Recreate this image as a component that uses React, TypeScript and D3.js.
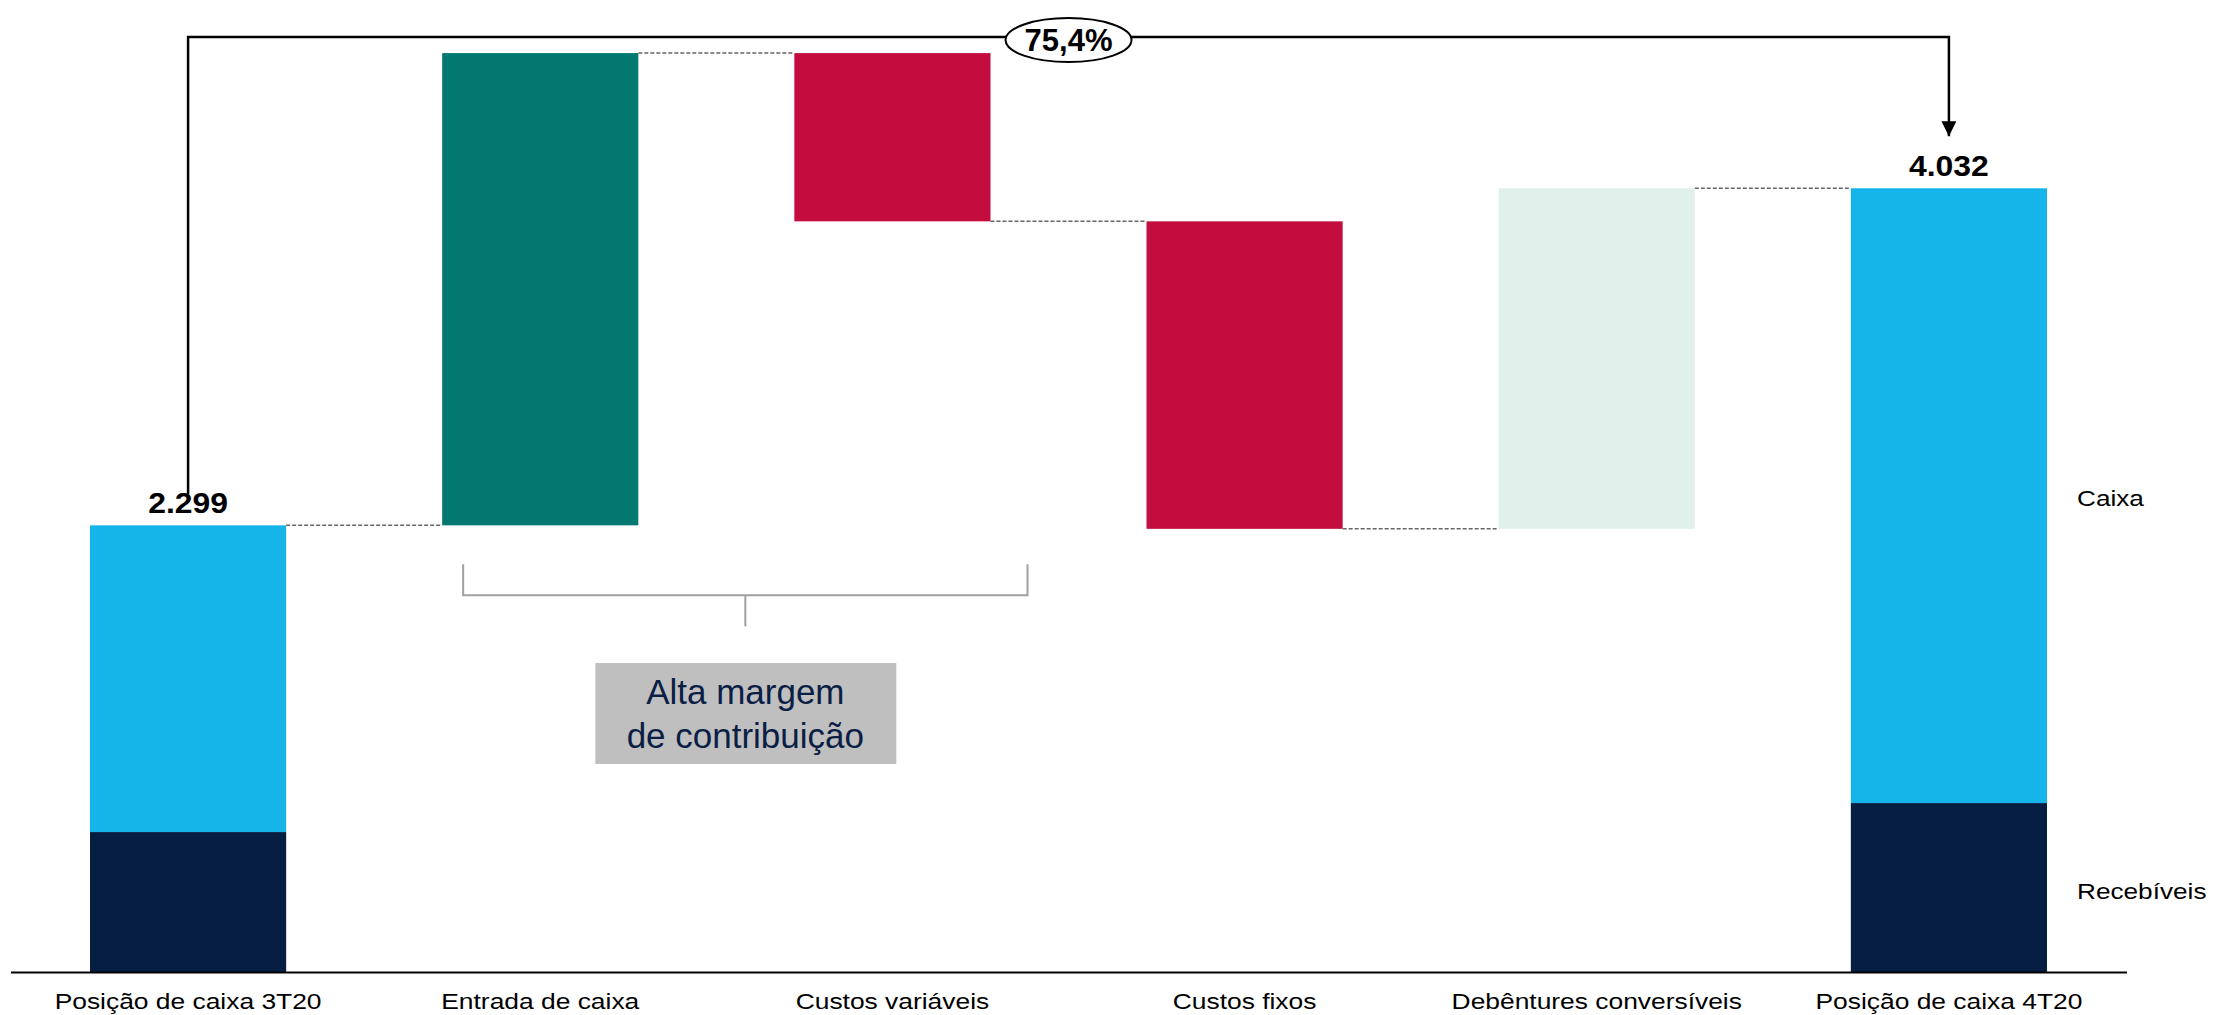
import { useMemo } from 'react'
import * as d3 from 'd3'

const W = 2213
const H = 1015

const CATEGORIES = [
  'Posição de caixa 3T20',
  'Entrada de caixa',
  'Custos variáveis',
  'Custos fixos',
  'Debêntures conversíveis',
  'Posição de caixa 4T20',
]
// steps of the waterfall; first and last are totals
const VALUES = [2299, 2428, -865, -1581, 1751, 4032]
const IS_TOTAL = [true, false, false, false, false, true]
const STEP_COLORS = ['', '#037870', '#C30D3E', '#C30D3E', '#E0F1EC', '']
// receivables part of the two cash positions
const RECEIVABLES = [722, 0, 0, 0, 0, 871]
const TOTAL_LABELS = ['2.299', '', '', '', '', '4.032']
const GROWTH_LABEL = '75,4%'
const LEGEND = [
  { label: 'Caixa', value: 2440 },
  { label: 'Recebíveis', value: 420 },
]

const CAIXA = '#15B5E9'
const RECEB = '#051E42'
const FONT = '"Liberation Sans", Arial, sans-serif'

export default function App() {
  const x = d3.scaleBand<string>(CATEGORIES, [12, 2125]).paddingInner(0.443).paddingOuter(0.2215)
  const y = d3.scaleLinear([0, 5000], [972.5, 0])
  const bw = x.bandwidth()

  const bars = useMemo(() => {
    let run = 0
    return VALUES.map((v, i) => {
      if (IS_TOTAL[i]) {
        run = v
        return { i, y0: 0, y1: v, end: v }
      }
      const start = run
      run += v
      return { i, y0: Math.min(start, run), y1: Math.max(start, run), end: run }
    })
  }, [])

  const cx = (i: number) => (x(CATEGORIES[i]) ?? 0) + bw / 2
  const first = 0
  const last = CATEGORIES.length - 1
  const topY = y(d3.max(bars, b => b.y1)!) - 16
  const midX = (cx(first) + cx(last)) / 2

  // bracket under "Entrada de caixa" + "Custos variáveis"
  const bL = (x(CATEGORIES[1]) ?? 0) + 21
  const bR = (x(CATEGORIES[2]) ?? 0) + bw + 37
  const bMid = (bL + bR) / 2
  const bTop = y(VALUES[0]) + 39

  return (
    <div style={{ position: 'fixed', left: 0, top: 0, width: W, height: H, background: '#fff' }}>
      <svg width={W} height={H} style={{ display: 'block' }} fontFamily={FONT}>
        <defs>
          <marker id="arr" viewBox="0 0 10 10" refX="10" refY="5" markerWidth="6" markerHeight="6"
            markerUnits="strokeWidth" orient="auto">
            <path d="M0,0 L10,5 L0,10 z" fill="#000" />
          </marker>
        </defs>

        {/* bars */}
        {bars.map(b => {
          const bx = x(CATEGORIES[b.i]) ?? 0
          if (IS_TOTAL[b.i]) {
            const r = RECEIVABLES[b.i]
            return (
              <g key={b.i}>
                <rect x={bx} width={bw} y={y(b.y1)} height={y(r) - y(b.y1)} fill={CAIXA} />
                <rect x={bx} width={bw} y={y(r)} height={y(0) - y(r)} fill={RECEB} />
              </g>
            )
          }
          return (
            <rect key={b.i} x={bx} width={bw} y={y(b.y1)} height={y(b.y0) - y(b.y1)} fill={STEP_COLORS[b.i]} />
          )
        })}

        {/* dashed connectors */}
        {bars.slice(0, -1).map(b => (
          <line key={`c${b.i}`}
            x1={(x(CATEGORIES[b.i]) ?? 0) + bw} x2={x(CATEGORIES[b.i + 1]) ?? 0}
            y1={y(b.end)} y2={y(b.end)}
            stroke="#666" strokeWidth={1.5} strokeDasharray="4,2" />
        ))}

        {/* axis baseline */}
        <line x1={11} x2={2127} y1={y(0)} y2={y(0)} stroke="#000" strokeWidth={2} />

        {/* category labels (source text is a bit wide) */}
        {CATEGORIES.map((c, i) => (
          <text key={c} transform={`translate(${cx(i)},1009) scale(1.2,1)`} textAnchor="middle"
            fontSize={22} fill="#000">{c}</text>
        ))}

        {/* total labels */}
        {bars.filter(b => IS_TOTAL[b.i]).map(b => (
          <text key={`t${b.i}`} transform={`translate(${cx(b.i)},${y(b.y1) - 12}) scale(1.1,1)`}
            textAnchor="middle" fontSize={29} fontWeight="bold" fill="#000">{TOTAL_LABELS[b.i]}</text>
        ))}

        {/* legend labels on the right */}
        {LEGEND.map(l => (
          <text key={l.label} transform={`translate(2077,${y(l.value) + 8}) scale(1.19,1)`}
            fontSize={22} fill="#000">{l.label}</text>
        ))}

        {/* growth arrow */}
        <path
          d={`M${cx(first)},${y(VALUES[0]) - 31} V${topY} H${cx(last)} V${y(VALUES[last]) - 52}`}
          fill="none" stroke="#000" strokeWidth={2.5} markerEnd="url(#arr)" />
        <ellipse cx={midX} cy={topY + 3} rx={63} ry={22} fill="#fff" stroke="#000" strokeWidth={2} />
        <text x={midX} y={topY + 14} textAnchor="middle" fontSize={31} fontWeight="bold" fill="#000">
          {GROWTH_LABEL}
        </text>

        {/* contribution margin bracket */}
        <path d={`M${bL},${bTop} V${bTop + 31} H${bR} V${bTop}`} fill="none" stroke="#A0A0A0" strokeWidth={2} />
        <line x1={bMid} x2={bMid} y1={bTop + 31} y2={bTop + 62} stroke="#A0A0A0" strokeWidth={2} />
        <rect x={bMid - 150} y={663} width={301} height={101} fill="#BFBFBF" />
        <text x={bMid} y={704} textAnchor="middle" fontSize={35} fill="#0B1E45">Alta margem</text>
        <text x={bMid} y={748} textAnchor="middle" fontSize={35} fill="#0B1E45">de contribuição</text>
      </svg>
    </div>
  )
}
